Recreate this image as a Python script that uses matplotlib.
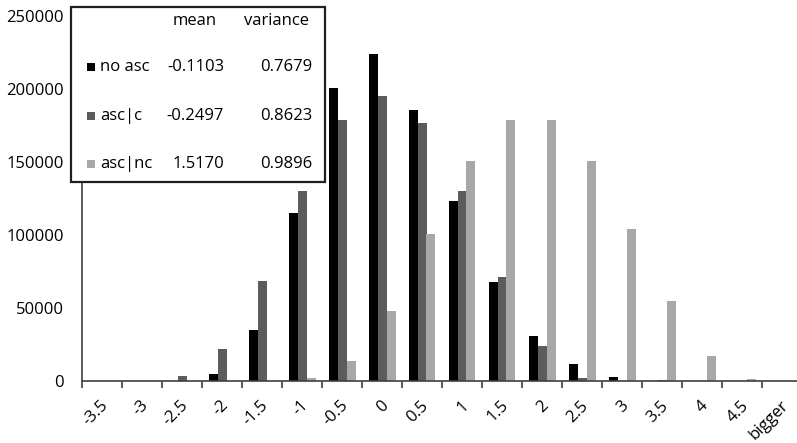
import numpy as np
import matplotlib.pyplot as plt
import matplotlib.transforms as mtransforms
from matplotlib.patches import Rectangle

plt.rcParams['font.family'] = ['Open Sans', 'DejaVu Sans']

# histogram bins and counts per series
categories = ['-3.5', '-3', '-2.5', '-2', '-1.5', '-1', '-0.5', '0', '0.5',
              '1', '1.5', '2', '2.5', '3', '3.5', '4', '4.5', 'bigger']
no_asc = [0, 0, 0, 4800, 35000, 115000, 200500, 224000, 185500,
          123000, 68000, 31000, 11500, 2500, 300, 0, 0, 0]
asc_c = [0, 0, 3600, 22000, 68700, 129800, 179000, 195000, 176500,
         130000, 71500, 24000, 1800, 300, 700, 0, 0, 0]
asc_nc = [0, 0, 0, 0, 0, 1900, 13800, 47800, 100500,
          150500, 178800, 178800, 151000, 104000, 55000, 16900, 1100, 0]

series_names = ['no asc', 'asc|c', 'asc|nc']
means = ['-0.1103', '-0.2497', '1.5170']
variances = ['0.7679', '0.8623', '0.9896']
colors = ['#000000', '#5c5c5c', '#a8a8a8']

W, H = 797, 443
fig = plt.figure(figsize=(W / 100, H / 100), dpi=100)

# axes in pixel terms: left edge 82, zero line at y=381, 250000 at y=16
ax = fig.add_axes([82 / W, 1 - 381 / H, 720 / W, 365 / H])

x = np.arange(len(categories))
w = 0.225
for i, (vals, c) in enumerate(zip([no_asc, asc_c, asc_nc], colors)):
    ax.bar(x + (i - 1) * w, vals, width=w, color=c, linewidth=0)

ax.set_xlim(-0.5, len(categories) - 0.5)
ax.set_ylim(0, 250000)
ax.set_yticks(np.arange(0, 250001, 50000))
ax.tick_params(axis='y', length=0, pad=13, labelsize=12)

# tick marks sit between categories, labels at the centres
ax.set_xticks(np.arange(len(categories) + 1) - 0.5)
ax.set_xticklabels([])
ax.set_xticks(x, minor=True)
ax.set_xticklabels(categories, minor=True, rotation=45, ha='right',
                   va='center', rotation_mode='anchor', fontsize=12)
ax.tick_params(axis='x', which='major', length=5, width=1.2,
               direction='out', color='#404040')
ax.tick_params(axis='x', which='minor', length=0, pad=16)

shift = mtransforms.ScaledTranslation(0.04, 0, fig.dpi_scale_trans)
for lbl in ax.get_xticklabels(minor=True):
    lbl.set_transform(lbl.get_transform() + shift)

for s in ['top', 'right']:
    ax.spines[s].set_visible(False)
for s in ['left', 'bottom']:
    ax.spines[s].set_color('#404040')
    ax.spines[s].set_linewidth(1.2)


def px(px_x, px_y):
    return px_x / W, 1 - px_y / H


# stats box over the upper left of the plot
bx, by = px(71, 182)
fig.patches.append(Rectangle((bx, by), 254 / W, 175 / H, transform=fig.transFigure,
                             facecolor='white', edgecolor='#202020',
                             linewidth=1.6, zorder=5))

fig.text(*px(195, 21), 'mean', ha='center', va='center', fontsize=12, zorder=6)
fig.text(*px(276, 21), 'variance', ha='center', va='center', fontsize=12, zorder=6)

rows_y = [67, 116, 164]
for name, m, v, c, ry in zip(series_names, means, variances, colors, rows_y):
    sx, sy = px(87, ry + 4)
    fig.patches.append(Rectangle((sx, sy), 8 / W, 8 / H, transform=fig.transFigure,
                                 facecolor=c, edgecolor='none', zorder=6))
    fig.text(*px(100, ry), name, ha='left', va='center', fontsize=12, zorder=6)
    fig.text(*px(224, ry), m, ha='right', va='center', fontsize=12, zorder=6)
    fig.text(*px(312, ry), v, ha='right', va='center', fontsize=12, zorder=6)

fig.savefig('out.png', dpi=100)
